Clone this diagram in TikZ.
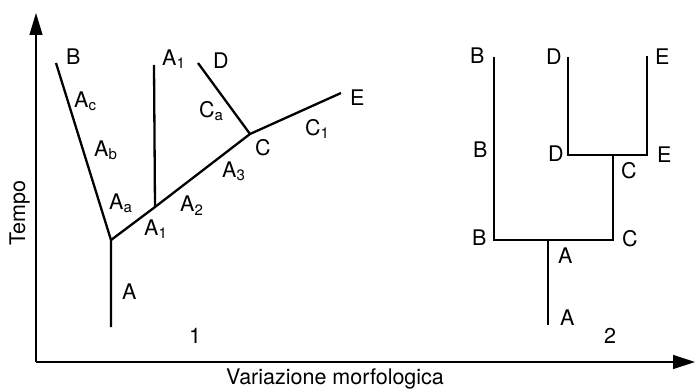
\documentclass[tikz,border=0pt]{standalone}
\usepackage{fontspec}
\setmainfont{TeX Gyre Heros}
\usetikzlibrary{arrows.meta}
\newcommand{\sbs}[1]{\raisebox{-3pt}{\fontsize{15}{15}\selectfont #1}}
\begin{document}
\begin{tikzpicture}[x=1pt,y=-1pt,
  branch/.style={line width=2.3pt, line join=miter},
  axis/.style={line width=1.3pt},
  lab/.style={font=\fontsize{21.5}{21.5}\selectfont, inner sep=0pt, anchor=base west}]
\useasboundingbox (0,0) rectangle (696,390);
% axes
\coordinate (O) at (36,362);
\coordinate (Ytop) at (36,13);
\coordinate (Xend) at (695,362);
\draw[axis,-{Triangle[length=22pt,width=13pt]}] (O) -- (Ytop);
\draw[axis,-{Triangle[length=22pt,width=14pt]}] (O) -- (Xend);
\node[lab] (xlab) at (226,384.5) {Variazione morfologica};
\node[lab,rotate=90] (ylab) at (25,246) {Tempo};
% tree 1
\coordinate (a0) at (111,327);
\coordinate (j0) at (111,240);
\coordinate (b1) at (56,63);
\coordinate (j1) at (155,207);
\coordinate (a1top) at (154,65);
\coordinate (c) at (250,134);
\coordinate (d1) at (198,63);
\coordinate (e1) at (341,93);
\draw[branch] (a0) -- (j0) -- (b1);
\draw[branch] (j0) -- (j1) -- (c) -- (e1);
\draw[branch] (j1) -- (a1top);
\draw[branch] (c) -- (d1);
\node[lab] (lB1) at (66,65) {B};
\node[lab] (lAc) at (74,108) {A\sbs{c}};
\node[lab] (lAb) at (94,157) {A\sbs{b}};
\node[lab] (lAa) at (109,210) {A\sbs{a}};
\node[lab] (lA1j) at (144,236) {A\sbs{1}};
\node[lab] (lA2) at (180,212) {A\sbs{2}};
\node[lab] (lA3) at (222,178) {A\sbs{3}};
\node[lab] (lC) at (255,156) {C};
\node[lab] (lC1) at (305,136) {C\sbs{1}};
\node[lab] (lE1) at (350,106) {E};
\node[lab] (lCa) at (199,118) {C\sbs{a}};
\node[lab] (lD1) at (213,69) {D};
\node[lab] (lA1t) at (162,66) {A\sbs{1}};
\node[lab] (lA0) at (122,299) {A};
\node[lab] (n1) at (189,343) {1};
% tree 2
\coordinate (B2t) at (494,57);
\coordinate (B2b) at (494,240);
\coordinate (C2b) at (613,240);
\coordinate (A2t) at (548,240);
\coordinate (A2b) at (548,325);
\coordinate (C2t) at (613,155);
\coordinate (D2b) at (568,155);
\coordinate (E2b) at (647,155);
\coordinate (D2t) at (568,57);
\coordinate (E2t) at (647,56);
\draw[branch] (B2t) -- (B2b) -- (C2b) -- (C2t);
\draw[branch] (A2t) -- (A2b);
\draw[branch] (D2t) -- (D2b) -- (E2b) -- (E2t);
\node[lab] (mBt) at (470,64) {B};
\node[lab] (mDt) at (546,65) {D};
\node[lab] (mEt) at (655,65) {E};
\node[lab] (mBm) at (473,158) {B};
\node[lab] (mDm) at (548,162) {D};
\node[lab] (mEm) at (657,163) {E};
\node[lab] (mCu) at (621,179) {C};
\node[lab] (mBl) at (472,246) {B};
\node[lab] (mCl) at (622,247) {C};
\node[lab] (mAu) at (558,263) {A};
\node[lab] (mAl) at (560,325) {A};
\node[lab] (n2) at (604,343) {2};
\end{tikzpicture}
\end{document}
